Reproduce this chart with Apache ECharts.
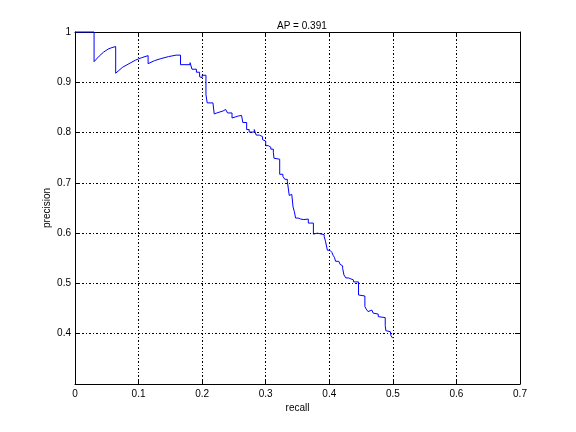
<!DOCTYPE html>
<html>
<head>
<meta charset="utf-8">
<script src="https://cdn.jsdelivr.net/npm/echarts@6/dist/echarts.min.js"></script>
<style>
html,body{margin:0;padding:0;background:#fff;}
#chart{width:576px;height:432px;}
</style>
</head>
<body>
<div id="chart"></div>
<script>
var titleText = 'AP = 0.391';
var xName = 'recall';
var yName = 'precision';
var xRange = [0, 0.7];
var yRange = [0.3, 1];
var tickStep = 0.1;

var recall = [
0, 0.030, 0.030, 0.038, 0.045, 0.052, 0.058, 0.064, 0.064, 0.075,
0.085, 0.095, 0.105, 0.115, 0.115, 0.125, 0.135, 0.147, 0.159, 0.166,
0.166, 0.181, 0.181, 0.184, 0.184, 0.191, 0.191, 0.196, 0.196, 0.197,
0.197, 0.200, 0.200, 0.206, 0.206, 0.208, 0.208, 0.217, 0.217, 0.219,
0.219, 0.223, 0.228, 0.233, 0.237, 0.240, 0.240, 0.247, 0.247, 0.252,
0.257, 0.262, 0.264, 0.264, 0.270, 0.270, 0.274, 0.274, 0.282, 0.282,
0.285, 0.285, 0.290, 0.290, 0.295, 0.295, 0.297, 0.297, 0.300, 0.300,
0.304, 0.304, 0.308, 0.308, 0.312, 0.312, 0.313, 0.313, 0.322, 0.322,
0.327, 0.327, 0.330, 0.330, 0.334, 0.334, 0.337, 0.337, 0.341, 0.343,
0.343, 0.345, 0.345, 0.347, 0.347, 0.351, 0.351, 0.355, 0.355, 0.360,
0.360, 0.367, 0.367, 0.371, 0.371, 0.373, 0.373, 0.375, 0.375, 0.381,
0.384, 0.384, 0.392, 0.392, 0.394, 0.394, 0.396, 0.396, 0.397, 0.397,
0.401, 0.401, 0.404, 0.404, 0.406, 0.406, 0.408, 0.408, 0.410, 0.410,
0.415, 0.415, 0.417, 0.417, 0.419, 0.419, 0.421, 0.421, 0.423, 0.423,
0.426, 0.426, 0.430, 0.430, 0.434, 0.434, 0.438, 0.438, 0.446, 0.446,
0.449, 0.449, 0.456, 0.456, 0.458, 0.458, 0.461, 0.461, 0.463, 0.467,
0.469, 0.469, 0.472, 0.472, 0.477, 0.477, 0.480, 0.480, 0.488, 0.488,
0.489, 0.489, 0.492, 0.492, 0.496, 0.496, 0.497, 0.497, 0.500, 0.500
];
var precision = [
1, 1, 0.941, 0.952, 0.960, 0.966, 0.969, 0.971, 0.918, 0.930,
0.937, 0.944, 0.949, 0.953, 0.937, 0.943, 0.947, 0.951, 0.954, 0.954,
0.935, 0.935, 0.939, 0.939, 0.926, 0.926, 0.920, 0.920, 0.911, 0.911,
0.909, 0.909, 0.914, 0.914, 0.875, 0.875, 0.859, 0.859, 0.861, 0.861,
0.837, 0.839, 0.841, 0.843, 0.846, 0.846, 0.839, 0.839, 0.829, 0.831,
0.833, 0.834, 0.834, 0.820, 0.820, 0.806, 0.806, 0.801, 0.801, 0.806,
0.806, 0.795, 0.795, 0.792, 0.792, 0.786, 0.786, 0.783, 0.783, 0.774,
0.774, 0.771, 0.771, 0.767, 0.767, 0.761, 0.761, 0.749, 0.747, 0.717,
0.717, 0.713, 0.713, 0.707, 0.707, 0.703, 0.703, 0.675, 0.677, 0.677,
0.652, 0.652, 0.643, 0.643, 0.630, 0.630, 0.628, 0.628, 0.627, 0.627,
0.628, 0.628, 0.620, 0.620, 0.619, 0.619, 0.620, 0.620, 0.598, 0.600,
0.600, 0.597, 0.597, 0.593, 0.593, 0.584, 0.584, 0.581, 0.581, 0.566,
0.566, 0.564, 0.564, 0.562, 0.562, 0.556, 0.556, 0.552, 0.552, 0.544,
0.544, 0.542, 0.542, 0.538, 0.538, 0.535, 0.535, 0.530, 0.530, 0.517,
0.517, 0.511, 0.511, 0.509, 0.509, 0.507, 0.507, 0.503, 0.503, 0.477,
0.477, 0.475, 0.475, 0.454, 0.454, 0.449, 0.449, 0.444, 0.446, 0.447,
0.447, 0.441, 0.441, 0.439, 0.439, 0.434, 0.434, 0.432, 0.432, 0.416,
0.416, 0.406, 0.406, 0.404, 0.404, 0.402, 0.402, 0.396, 0.396, 0.391
];

var pts = recall.map(function (r, i) { return [r, precision[i]]; });
var FONT = "'Liberation Sans', Arial, Helvetica, sans-serif";
var gridLine = { show: true, lineStyle: { color: '#000', width: 1, type: [2, 2, 1, 2] } };

function fmt(v) {
  if (Math.abs(v) < 1e-9) return '0';
  if (Math.abs(v - 1) < 1e-9) return '1';
  return v.toFixed(1);
}

var chart = echarts.init(document.getElementById('chart'), null, { renderer: 'canvas' });
chart.setOption({
  animation: false,
  backgroundColor: '#ffffff',
  title: {
    text: titleText,
    left: 272, top: 16,
    textStyle: { fontFamily: FONT, fontSize: 10, fontWeight: 'normal', color: '#000' }
  },
  grid: { left: 75, right: 56, top: 32, bottom: 48, containLabel: false },
  xAxis: [{
    type: 'value', position: 'bottom', min: xRange[0], max: xRange[1], interval: tickStep,
    name: xName, nameLocation: 'middle', nameGap: 19, nameMoveOverlap: false,
    nameTextStyle: { fontFamily: FONT, fontSize: 10, color: '#000' },
    axisLine: { show: true, onZero: false, lineStyle: { color: '#000', width: 1 } },
    axisTick: { show: true, inside: true, length: 5, lineStyle: { color: '#000' } },
    axisLabel: { margin: 5, fontFamily: FONT, fontSize: 10, color: '#000', formatter: fmt },
    splitLine: gridLine
  }, {
    type: 'value', position: 'top', min: xRange[0], max: xRange[1], interval: tickStep,
    axisLine: { show: true, onZero: false, lineStyle: { color: '#000', width: 1 } },
    axisTick: { show: true, inside: true, length: 5, lineStyle: { color: '#000' } },
    axisLabel: { show: false }, splitLine: { show: false }
  }],
  yAxis: [{
    type: 'value', position: 'left', min: yRange[0], max: yRange[1], interval: tickStep,
    name: yName, nameLocation: 'middle', nameGap: 23, nameRotate: 90, nameMoveOverlap: false,
    nameTextStyle: { fontFamily: FONT, fontSize: 10, color: '#000' },
    axisLine: { show: true, onZero: false, lineStyle: { color: '#000', width: 1 } },
    axisTick: { show: true, inside: true, length: 5, lineStyle: { color: '#000' } },
    axisLabel: { margin: 4, fontFamily: FONT, fontSize: 10, color: '#000',
      formatter: function (v) { return Math.abs(v - yRange[0]) < 1e-9 ? '' : fmt(v); } },
    splitLine: gridLine
  }, {
    type: 'value', position: 'right', min: yRange[0], max: yRange[1], interval: tickStep,
    axisLine: { show: true, onZero: false, lineStyle: { color: '#000', width: 1 } },
    axisTick: { show: true, inside: true, length: 5, lineStyle: { color: '#000' } },
    axisLabel: { show: false }, splitLine: { show: false }
  }],
  series: [{
    type: 'line', xAxisIndex: 0, yAxisIndex: 0,
    data: pts, showSymbol: false, symbol: 'none',
    lineStyle: { color: '#0000ff', width: 1 },
    itemStyle: { color: '#0000ff' },
    clip: false, z: 5
  }]
});
</script>
</body>
</html>
